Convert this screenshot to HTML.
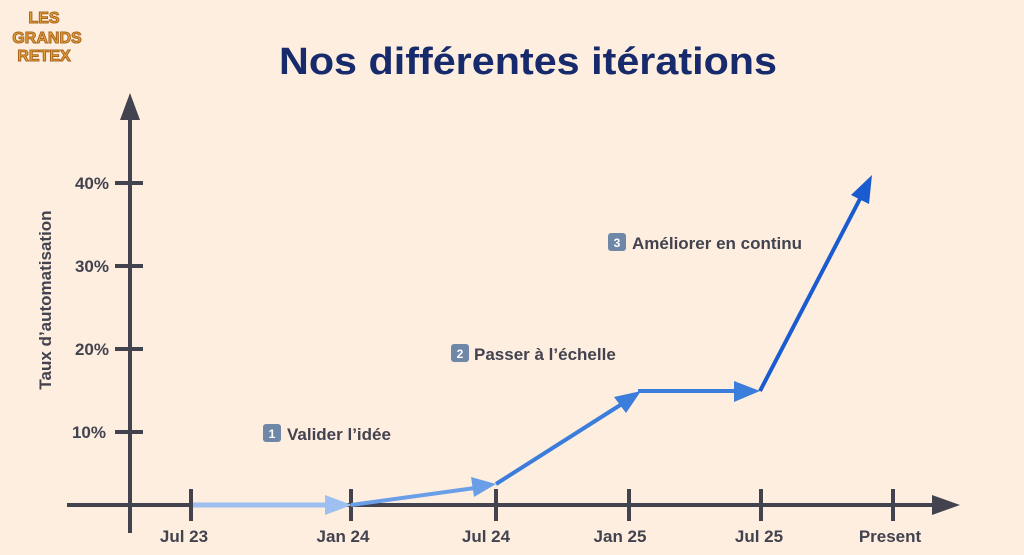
<!DOCTYPE html>
<html><head><meta charset="utf-8"><style>
html,body{margin:0;padding:0;background:#fdeee0;}
svg{display:block;font-family:"Liberation Sans",sans-serif;}
.t{font-weight:bold;fill:#42434f;font-size:17px;}
</style></head><body>
<svg width="1024" height="555" viewBox="0 0 1024 555">
<rect width="1024" height="555" fill="#fdeee0"/>
<g font-weight="900" font-size="16" fill="#e8a33c" stroke="#a8641c" stroke-width="1" text-anchor="middle">
<text x="44" y="23">LES</text><text x="47" y="43">GRANDS</text><text x="44" y="61">RETEX</text>
</g>
<text x="528" y="74" text-anchor="middle" font-size="38" font-weight="bold" fill="#172a6b" textLength="498" lengthAdjust="spacingAndGlyphs">Nos différentes itérations</text>
<g stroke="#42434f" stroke-width="4" fill="none">
<line x1="130" y1="118" x2="130" y2="533"/>
<line x1="67" y1="505" x2="935" y2="505"/>
<line x1="115" y1="183" x2="143" y2="183"/><line x1="115" y1="266" x2="143" y2="266"/>
<line x1="115" y1="349" x2="143" y2="349"/><line x1="115" y1="432" x2="143" y2="432"/>
<line x1="191" y1="489" x2="191" y2="521"/><line x1="351" y1="489" x2="351" y2="521"/>
<line x1="496" y1="489" x2="496" y2="521"/><line x1="629" y1="489" x2="629" y2="521"/>
<line x1="761" y1="489" x2="761" y2="521"/><line x1="893" y1="489" x2="893" y2="521"/>
</g>
<polygon points="130,93 120,120 140,120" fill="#42434f"/>
<polygon points="960,505 932,495 932,515" fill="#42434f"/>
<g class="t" text-anchor="end"><text x="109" y="189">40%</text><text x="109" y="272">30%</text><text x="109" y="355">20%</text><text x="106" y="438">10%</text></g>
<text class="t" transform="translate(51,300) rotate(-90)" text-anchor="middle">Taux d’automatisation</text>
<g class="t" text-anchor="middle"><text x="184" y="542">Jul 23</text><text x="343" y="542">Jan 24</text><text x="486" y="542">Jul 24</text><text x="620" y="542">Jan 25</text><text x="759" y="542">Jul 25</text><text x="890" y="542">Present</text></g>
<!-- series -->
<line x1="193" y1="505" x2="330" y2="505" stroke="#9ec0f0" stroke-width="5"/>
<polygon points="352,505 325,495 325,515" fill="#9ec0f0"/>
<line x1="351" y1="505" x2="475" y2="488" stroke="#6a9fe8" stroke-width="4"/>
<polygon points="496,484 471,477 474,497" fill="#6a9fe8"/>
<line x1="496" y1="484" x2="625" y2="402" stroke="#3b7ddb" stroke-width="4"/>
<polygon points="641,391 614,397 626,413" fill="#3b7ddb"/>
<line x1="638" y1="391" x2="745" y2="391" stroke="#3b7ddb" stroke-width="4"/>
<polygon points="760,391 734,381 734,402" fill="#3b7ddb"/>
<line x1="760" y1="391" x2="862" y2="195" stroke="#1a5ccf" stroke-width="4"/>
<polygon points="872,175 851,195 869,204" fill="#1a5ccf"/>
<!-- labels -->
<g font-size="12" font-weight="bold" fill="#fff" text-anchor="middle">
<rect x="263" y="424" width="18" height="18" rx="3" fill="#6f88a8"/><text x="272" y="438">1</text>
<rect x="451" y="344" width="18" height="18" rx="3" fill="#6f88a8"/><text x="460" y="358">2</text>
<rect x="608" y="233" width="18" height="18" rx="3" fill="#6f88a8"/><text x="617" y="247">3</text>
</g>
<g class="t"><text x="287" y="440">Valider l’idée</text><text x="474" y="360">Passer à l’échelle</text><text x="632" y="249">Améliorer en continu</text></g>
</svg>
</body></html>
